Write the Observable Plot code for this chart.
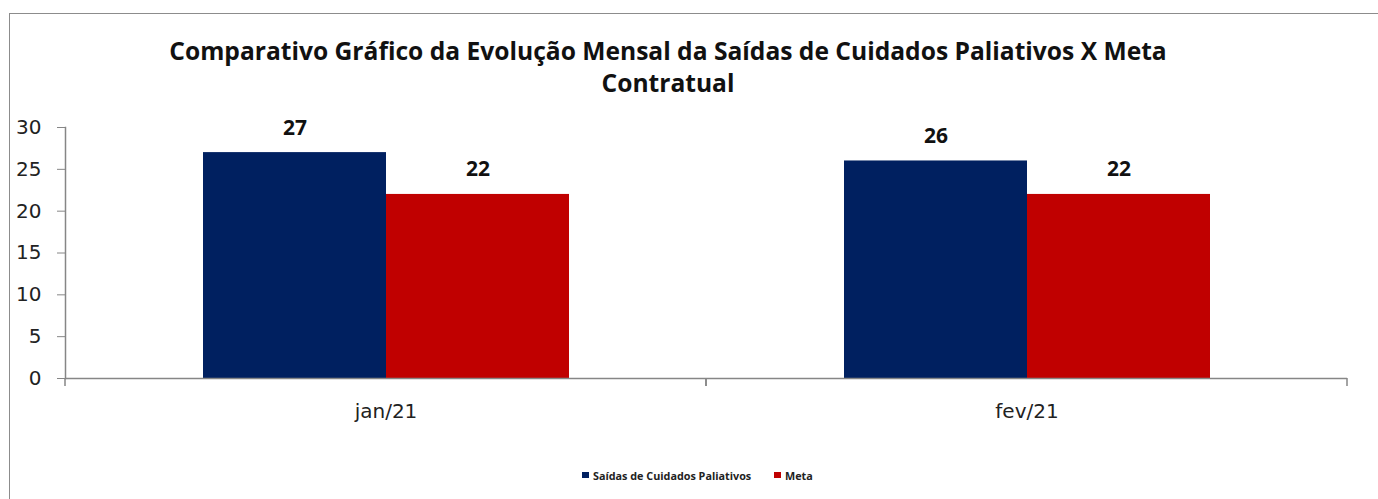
<!DOCTYPE html>
<html>
<head>
<meta charset="utf-8">
<script src="https://cdn.jsdelivr.net/npm/d3@7"></script>
<script src="https://cdn.jsdelivr.net/npm/@observablehq/plot@0.6"></script>
<style>
  html, body { margin: 0; padding: 0; background: #fff; }
  #wrap { position: relative; width: 1378px; height: 499px; overflow: hidden; background: #fff; }
  #border { position: absolute; left: 9px; top: 13px; width: 1420px; height: 520px; border: 1.5px solid #8c8c8c; box-sizing: border-box; }
  #chart { position: absolute; left: 0; top: 0; }
  #title { position: absolute; left: 0; top: 35px; width: 1336px; text-align: center; font-family: "Open Sans", sans-serif; font-weight: 700; font-size: 24.6px; line-height: 32px; color: #111; }
  #legend { position: absolute; left: 0; top: 466px; width: 1378px; height: 18px; font-family: "Open Sans", sans-serif; font-weight: 700; font-size: 10.8px; color: #222; }
  .item { position: absolute; top: 0; display: flex; align-items: center; height: 18px; white-space: nowrap; }
  .sw { width: 7px; height: 6px; margin-right: 4px; display: inline-block; }
</style>
</head>
<body>
<div id="wrap">
  <div id="border"></div>
  <div id="chart"></div>
  <div id="title"></div>
  <div id="legend"></div>
</div>
<script>
const titleLines = ["Comparativo Gráfico da Evolução Mensal da Saídas de Cuidados Paliativos X Meta", "Contratual"];
const months = ["jan/21", "fev/21"];
const series = ["Saídas de Cuidados Paliativos", "Meta"];
const saidas = [27, 26];
const meta = [22, 22];
const colors = ["#002060", "#C00000"];
const yTicks = [0, 5, 10, 15, 20, 25, 30];

const data = months.flatMap((m, i) => [
  {month: m, serie: series[0], value: saidas[i]},
  {month: m, serie: series[1], value: meta[i]}
]);

document.getElementById("title").innerHTML = titleLines.join("<br>");

const axisGray = "#868686";

function facetEdgeTicks(index, scales) {
  const r = scales.x.range();
  const x0 = Math.min(...r), x1 = Math.max(...r);
  const y0 = scales.y(0);
  const g = d3.create("svg:g").attr("stroke", axisGray).attr("stroke-width", 1.5);
  for (const xx of [x0, x1]) {
    g.append("line").attr("x1", xx).attr("x2", xx).attr("y1", y0).attr("y2", y0 + 8);
  }
  return g.node();
}

const chart = Plot.plot({
  width: 1378,
  height: 499,
  marginLeft: 65,
  marginRight: 31,
  marginTop: 127,
  marginBottom: 121,
  style: {fontFamily: "DejaVu Sans", fontSize: "20px", color: "#222", background: "transparent"},
  fx: {domain: months, paddingInner: 0, paddingOuter: 0, label: null, axis: null},
  x: {domain: series, paddingInner: 0, paddingOuter: 0.75, axis: null},
  y: {domain: [0, 30], axis: null},
  color: {domain: series, range: colors},
  marks: [
    Plot.barY(data, {fx: "month", x: "serie", y: "value", fill: "serie"}),
    Plot.text(data, {fx: "month", x: "serie", y: "value", text: d => String(d.value),
      lineAnchor: "bottom", dy: -18, fontFamily: "Open Sans", fontWeight: "bold", fontSize: 21, fill: "#111"}),
    Plot.axisY({ticks: yTicks, tickSize: 8, tickPadding: 16, label: null, stroke: axisGray, fill: "#222",
      fontSize: 20, fontFamily: "DejaVu Sans"}),
    Plot.frame({anchor: "left", facetAnchor: "left", stroke: axisGray, strokeWidth: 1.5}),
    Plot.ruleY([0], {stroke: axisGray, strokeWidth: 1.5}),
    facetEdgeTicks,
    Plot.axisFx({anchor: "bottom", tickSize: 0, tickPadding: 25, label: null, fill: "#222",
      fontSize: 20, fontFamily: "DejaVu Sans"})
  ]
});
document.getElementById("chart").appendChild(chart);

// legend
const legend = document.getElementById("legend");
const legendLeft = [582, 774];
series.forEach((s, i) => {
  const it = document.createElement("div");
  it.className = "item";
  it.style.left = legendLeft[i] + "px";
  it.innerHTML = `<span class="sw" style="background:${colors[i]}"></span><span>${s}</span>`;
  legend.appendChild(it);
});
</script>
</body>
</html>
